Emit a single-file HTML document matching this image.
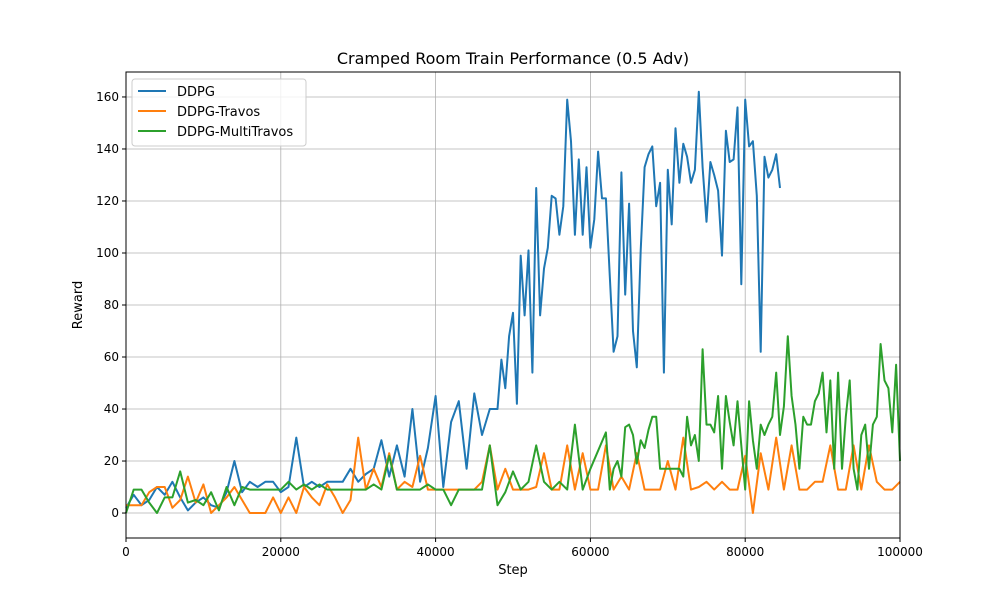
<!DOCTYPE html>
<html><head><meta charset="utf-8"><style>
body{margin:0;background:#fff;}
svg{display:block;font-family:"DejaVu Sans","Liberation Sans",sans-serif;}
</style></head><body>
<svg id="chart" width="1000" height="600" viewBox="0 0 1000 600" xmlns="http://www.w3.org/2000/svg">
<rect width="1000" height="600" fill="#fff"/>
<g id="grid"></g>
<g id="series"></g>
<rect x="126" y="72" width="774" height="466" fill="none" stroke="#000" stroke-width="1"/>
<g id="ticks"></g>
<text x="513" y="64" text-anchor="middle" font-size="16">Cramped Room Train Performance (0.5 Adv)</text>
<text x="513" y="574" text-anchor="middle" font-size="13">Step</text>
<text x="0" y="0" transform="translate(82,305) rotate(-90)" text-anchor="middle" font-size="13">Reward</text>
<g>
<rect x="132" y="79" width="174" height="67" rx="3" fill="#fff" fill-opacity="0.8" stroke="#ccc"/>
<line x1="138" y1="91" x2="166" y2="91" stroke="#1f77b4" stroke-width="2"/>
<text x="177" y="96" font-size="13">DDPG</text>
<line x1="138" y1="111" x2="166" y2="111" stroke="#ff7f0e" stroke-width="2"/>
<text x="177" y="116" font-size="13">DDPG-Travos</text>
<line x1="138" y1="131" x2="166" y2="131" stroke="#2ca02c" stroke-width="2"/>
<text x="177" y="136" font-size="13">DDPG-MultiTravos</text>
</g>
</svg>
<script>
const xTicks=[0,20000,40000,60000,80000,100000];
const yTicks=[0,20,40,60,80,100,120,140,160];
const blueLow=[2,7,3,5,10,7,12,6,1,4,6,3,2,8,20,8,12,10,12,12,8,10,29,10,12,10,12,12,12,17,12,15,17,28,14,26,14,40,12,25,45,10,35,43,17,46,30,40,40];
const blueLowStart=0, blueLowInterval=1000;
const blueHigh=[59,48,68,77,42,99,76,101,54,125,76,94,102,122,121,107,118,159,143,107,136,107,133,102,113,139,121,121,91,62,68,131,84,119,70,56,101,133,138,141,118,127,54,132,111,148,127,142,137,127,132,162,133,112,135,130,124,99,147,135,136,156,88,159,141,143,122,62,137,129,132,138,125];
const blueHighStart=48500, blueHighEnd=84500;
const orangeVals=[3,3,3,8,10,10,2,5,14,4,11,0,3,6,10,5,0,0,0,6,0,6,0,10,6,3,11,6,0,5,29,9,17,10,23,9,12,10,22,9,9,9,9,9,9,9,12,26,9,17,9,9,9,10,23,9,9,26,9,23,9,9,26,9,14,9,23,9,9,9,20,9,29,9,10,12,9,12,9,9,22,0,23,9,29,9,26,9,9,12,12,26,9,9,26,9,26,12,9,9,12];
const orangeStart=0, orangeInterval=1000;
const greenEarly=[0,9,9,4,0,6,6,16,4,5,3,8,1,10,3,10,9,9,9,9,9,12,9,11,9,11,9,9,9,9,9,9,11,9,22,9,9,9,9,11,9,9,3,9,9,9,9,26,3,8,16,9,12,26,12,9,12,9,34,9,17];
const greenEarlyStart=0, greenEarlyInterval=1000;
const greenLate=[31,9,17,20,14,33,34,30,19,28,25,32,37,37,17,17,17,17,17,17,14,37,26,30,20,63,34,34,31,45,17,45,35,26,43,26,9,43,28,17,34,30,34,37,54,30,41,68,45,34,17,37,34,34,43,46,54,31,51,17,54,17,37,51,17,9,30,34,17,34,37,65,51,48,31,57,20];
const greenLateEnd=100000, greenLateInterval=500;

const X0=126,X1=900,Y0=538,Y1=72,YMIN=-9.6,YMAX=169.6;
const sx=v=>X0+(v-0)/(100000-0)*(X1-X0);
const sy=v=>Y0-(v-YMIN)/(YMAX-YMIN)*(Y0-Y1);
const NS="http://www.w3.org/2000/svg";
const grid=document.getElementById('grid'),ticks=document.getElementById('ticks'),ser=document.getElementById('series');
function mk(t,a){const e=document.createElementNS(NS,t);for(const k in a)e.setAttribute(k,a[k]);return e;}
xTicks.forEach(t=>{
 const g=mk('line',{x1:sx(t),x2:sx(t),y1:Y1,y2:Y0,stroke:'#b0b0b0','stroke-width':0.8});
 
 
 grid.appendChild(g);
 const tk=mk('line',{x1:sx(t),x2:sx(t),y1:Y0,y2:Y0+4,stroke:'#000'});
 
 
 ticks.appendChild(tk);
 const tx=mk('text',{x:sx(t),y:Y0+18,'text-anchor':'middle','font-size':12});
 
 
 tx.textContent=t;ticks.appendChild(tx);
});
yTicks.forEach(t=>{
 const g=mk('line',{x1:X0,x2:X1,y1:sy(t),y2:sy(t),stroke:'#b0b0b0','stroke-width':0.8});
 
 
 grid.appendChild(g);
 const tk=mk('line',{x1:X0-4,x2:X0,y1:sy(t),y2:sy(t),stroke:'#000'});
 
 
 ticks.appendChild(tk);
 const tx=mk('text',{x:X0-7,y:sy(t)+4,'text-anchor':'end','font-size':12});
 
 
 tx.textContent=t;ticks.appendChild(tx);
});
function pts(vals,start,interval){return vals.map((v,i)=>[start+i*interval,v]);}
const bluePts=pts(blueLow,blueLowStart,blueLowInterval).concat(pts(blueHigh,blueHighStart,(blueHighEnd-blueHighStart)/(blueHigh.length-1)));
const orangePts=pts(orangeVals,orangeStart,orangeInterval);
const greenPts=pts(greenEarly,greenEarlyStart,greenEarlyInterval).concat(pts(greenLate,greenLateEnd-(greenLate.length-1)*greenLateInterval,greenLateInterval));
function line(p,color,name){
 const e=mk('polyline',{points:p.map(q=>sx(q[0]).toFixed(1)+','+sy(q[1]).toFixed(1)).join(' '),fill:'none',stroke:color,'stroke-width':2,'stroke-linejoin':'round'});
 
 
 ser.appendChild(e);
}
line(bluePts,'#1f77b4','ddpg-line');
line(orangePts,'#ff7f0e','ddpg-travos-line');
line(greenPts,'#2ca02c','ddpg-multitravos-line');
</script>
</body></html>
